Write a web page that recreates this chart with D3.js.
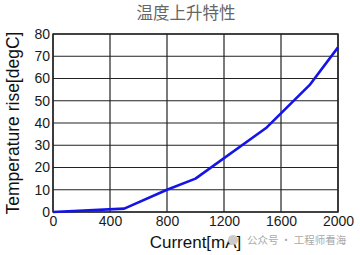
<!DOCTYPE html>
<html><head><meta charset="utf-8">
<script src="https://cdn.jsdelivr.net/npm/d3@7"></script>
<style>body{margin:0;background:#fff}svg{display:block}</style>
</head><body>
<script>
const currents = [0, 500, 800, 1000, 1500, 1800, 2000];
const tempRise = [0, 1.5, 10, 15, 38, 57, 74];
const xTicks = [0, 400, 800, 1200, 1600, 2000];
const yTicks = [0, 10, 20, 30, 40, 50, 60, 70, 80];
const title = "温度上升特性";
const xLabel = "Current[mA]";
const yLabel = "Temperature rise[degC]";
const watermark = "公众号 · 工程师看海";

const W = 360, H = 255;
const m = {l:53, r:22, t:34, b:43};
const svg = d3.select("body").append("svg").attr("width", W).attr("height", H);
const x = d3.scaleLinear().domain([0,2000]).range([m.l, W-m.r]);
const y = d3.scaleLinear().domain([0,80]).range([H-m.b, m.t]);
const font = "Arial, 'Liberation Sans', sans-serif";

// grid
svg.append("g").selectAll("line").data(yTicks).join("line")
  .attr("x1", x(0)).attr("x2", x(2000)).attr("y1", d=>y(d)).attr("y2", d=>y(d))
  .attr("stroke", "#222").attr("stroke-width", 1.2);
svg.append("g").selectAll("line").data(xTicks).join("line")
  .attr("y1", y(0)).attr("y2", y(80)).attr("x1", d=>x(d)).attr("x2", d=>x(d))
  .attr("stroke", "#222").attr("stroke-width", 1.2);
svg.append("rect").attr("x", x(0)).attr("y", y(80)).attr("width", x(2000)-x(0)).attr("height", y(0)-y(80))
  .attr("fill","none").attr("stroke","#222").attr("stroke-width",1.4);

// axes labels
const xa = svg.append("g").attr("transform", `translate(0,${y(0)})`)
  .call(d3.axisBottom(x).tickValues(xTicks).tickSize(0).tickPadding(4).tickFormat(d3.format("d")));
const ya = svg.append("g").attr("transform", `translate(${x(0)},0)`)
  .call(d3.axisLeft(y).tickValues(yTicks).tickSize(0).tickPadding(3).tickFormat(d3.format("d")));
[xa, ya].forEach(a => {
  a.select(".domain").remove();
  a.selectAll("text").attr("font-family", font).attr("font-size", 14).attr("fill", "#1a1a1a");
});

// line
svg.append("path").datum(currents.map((c,i)=>[c, tempRise[i]]))
  .attr("d", d3.line().x(d=>x(d[0])).y(d=>y(d[1])))
  .attr("fill","none").attr("stroke","#1414e6").attr("stroke-width",2.6).attr("stroke-linejoin","round");

// title
svg.append("text").attr("x", 186).attr("y", 19).attr("text-anchor","middle")
  .attr("font-family","'Noto Sans CJK SC', sans-serif").attr("font-size", 16.5).attr("fill","#666").text(title);
svg.append("text").attr("x", (x(0)+x(2000))/2).attr("y", 248).attr("text-anchor","middle")
  .attr("font-family", font).attr("font-size", 17).attr("fill","#111").text(xLabel);
svg.append("text").attr("transform", `translate(19,${(y(0)+y(80))/2}) rotate(-90)`).attr("text-anchor","middle")
  .attr("font-family", font).attr("font-size", 17.5).attr("fill","#111").text(yLabel);

// watermark
svg.append("circle").attr("cx", 233).attr("cy", 240).attr("r", 5).attr("fill","#ccc");
svg.append("text").attr("x", 247).attr("y", 244).attr("font-family","'Noto Sans CJK SC', sans-serif")
  .attr("font-size", 10.5).attr("fill","#aaa").text(watermark);
</script>
</body></html>
